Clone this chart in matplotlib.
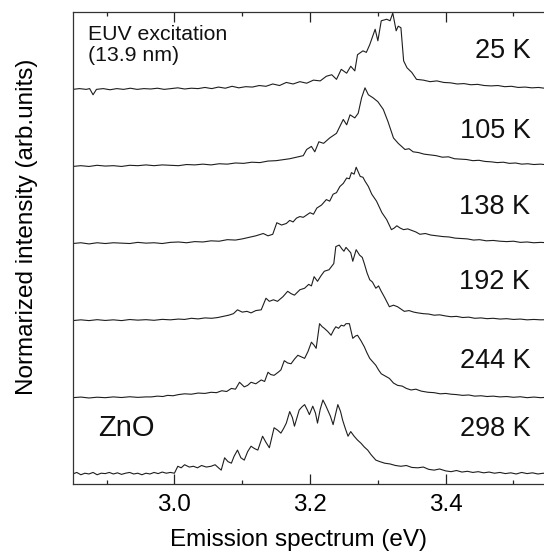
import matplotlib
matplotlib.use("Agg")
import matplotlib.pyplot as plt
from matplotlib.ticker import FixedLocator

plt.rcParams['font.family'] = ['Liberation Sans', 'DejaVu Sans']

# ---------------- data, (energy eV, normalized intensity) ----------------
temps = ["25 K", "105 K", "138 K", "192 K", "244 K", "298 K"]
offsets = [5, 4, 3, 2, 1, 0]

spec_25K = [(2.85, 0.0), (2.86, 0.01), (2.87, 0.0), (2.875, 0.01), (2.88, -0.07), (2.885, 0.0),
            (2.895, 0.01), (2.905, -0.005), (2.915, 0.01), (2.925, 0.0), (2.935, 0.015), (2.945, 0.0),
            (2.955, 0.01), (2.965, 0.005), (2.975, 0.015), (2.985, 0.0), (2.995, 0.01), (3.005, 0.02),
            (3.015, 0.005), (3.025, 0.015), (3.035, 0.01), (3.045, 0.025), (3.055, 0.01), (3.065, 0.03),
            (3.075, 0.015), (3.085, 0.04), (3.095, 0.02), (3.105, 0.035), (3.115, 0.03), (3.125, 0.05),
            (3.135, 0.04), (3.145, 0.07), (3.155, 0.05), (3.165, 0.09), (3.175, 0.07), (3.185, 0.10),
            (3.195, 0.08), (3.205, 0.12), (3.215, 0.11), (3.224, 0.17), (3.232, 0.19), (3.239, 0.13),
            (3.246, 0.26), (3.254, 0.21), (3.26, 0.30), (3.266, 0.24), (3.27, 0.45), (3.278, 0.50),
            (3.283, 0.48), (3.288, 0.58), (3.296, 0.78), (3.30, 0.63), (3.305, 0.89), (3.313, 0.91),
            (3.318, 0.89), (3.322, 0.99), (3.327, 0.76), (3.33, 0.82), (3.334, 0.80), (3.338, 0.37),
            (3.343, 0.28), (3.35, 0.22), (3.357, 0.13), (3.367, 0.12), (3.377, 0.10), (3.387, 0.11),
            (3.397, 0.09), (3.407, 0.085), (3.417, 0.07), (3.427, 0.075), (3.437, 0.06), (3.447, 0.065),
            (3.457, 0.05), (3.467, 0.045), (3.477, 0.05), (3.487, 0.035), (3.497, 0.04), (3.507, 0.025),
            (3.517, 0.03), (3.527, 0.02), (3.537, 0.025), (3.55, 0.01)]

spec_105K = [(2.85, 0.0), (2.862, 0.01), (2.874, 0.0), (2.886, 0.015), (2.898, 0.005), (2.91, 0.01),
             (2.922, 0.0), (2.934, 0.015), (2.946, 0.01), (2.958, 0.02), (2.97, 0.01), (2.982, 0.02),
             (2.994, 0.015), (3.006, 0.01), (3.018, 0.025), (3.03, 0.02), (3.042, 0.03), (3.054, 0.02),
             (3.066, 0.035), (3.078, 0.03), (3.09, 0.045), (3.102, 0.04), (3.114, 0.055), (3.126, 0.05),
             (3.138, 0.07), (3.15, 0.075), (3.162, 0.09), (3.17, 0.10), (3.18, 0.12), (3.19, 0.14),
             (3.195, 0.22), (3.202, 0.26), (3.207, 0.19), (3.213, 0.32), (3.22, 0.30), (3.229, 0.37),
             (3.239, 0.43), (3.249, 0.61), (3.254, 0.54), (3.259, 0.67), (3.266, 0.63), (3.271, 0.69),
             (3.276, 0.89), (3.281, 1.02), (3.286, 0.93), (3.293, 0.89), (3.30, 0.84), (3.308, 0.74),
             (3.315, 0.58), (3.323, 0.37), (3.33, 0.30), (3.34, 0.22), (3.346, 0.23), (3.352, 0.19),
             (3.36, 0.18), (3.368, 0.16), (3.377, 0.15), (3.386, 0.14), (3.395, 0.12), (3.404, 0.125),
             (3.413, 0.10), (3.422, 0.095), (3.431, 0.09), (3.44, 0.075), (3.449, 0.08), (3.458, 0.065),
             (3.467, 0.06), (3.476, 0.05), (3.485, 0.055), (3.494, 0.04), (3.503, 0.045), (3.512, 0.03),
             (3.521, 0.035), (3.53, 0.025), (3.54, 0.03), (3.55, 0.02)]

spec_138K = [(2.85, 0.0), (2.862, 0.01), (2.874, -0.005), (2.886, 0.01), (2.898, 0.0), (2.91, 0.01),
             (2.922, 0.005), (2.934, 0.0), (2.946, 0.015), (2.958, 0.005), (2.97, 0.01), (2.982, 0.0),
             (2.994, 0.015), (3.006, 0.02), (3.018, 0.01), (3.03, 0.025), (3.042, 0.02), (3.054, 0.035),
             (3.066, 0.03), (3.078, 0.05), (3.09, 0.045), (3.10, 0.06), (3.11, 0.08), (3.12, 0.10),
             (3.131, 0.13), (3.138, 0.10), (3.145, 0.12), (3.151, 0.27), (3.158, 0.24), (3.165, 0.26),
             (3.17, 0.30), (3.175, 0.28), (3.18, 0.33), (3.185, 0.35), (3.19, 0.34), (3.20, 0.40),
             (3.205, 0.38), (3.21, 0.46), (3.217, 0.50), (3.224, 0.57), (3.229, 0.55), (3.234, 0.64),
             (3.239, 0.66), (3.244, 0.74), (3.249, 0.78), (3.254, 0.85), (3.258, 0.84), (3.261, 0.92),
             (3.265, 0.90), (3.268, 0.99), (3.271, 0.93), (3.274, 0.87), (3.278, 0.86), (3.281, 0.81),
             (3.286, 0.74), (3.291, 0.64), (3.298, 0.55), (3.306, 0.40), (3.313, 0.31), (3.32, 0.18),
             (3.324, 0.20), (3.328, 0.23), (3.333, 0.20), (3.338, 0.18), (3.344, 0.19), (3.35, 0.17),
             (3.356, 0.15), (3.362, 0.12), (3.37, 0.13), (3.378, 0.11), (3.387, 0.10), (3.396, 0.09),
             (3.405, 0.085), (3.414, 0.07), (3.423, 0.065), (3.432, 0.06), (3.441, 0.045), (3.45, 0.05),
             (3.46, 0.035), (3.47, 0.04), (3.48, 0.03), (3.49, 0.025), (3.50, 0.03), (3.51, 0.015),
             (3.52, 0.02), (3.53, 0.01), (3.54, 0.015), (3.55, 0.01)]

spec_192K = [(2.85, 0.0), (2.862, 0.01), (2.874, 0.0), (2.886, 0.012), (2.898, 0.002), (2.91, 0.01),
             (2.922, 0.0), (2.934, 0.014), (2.946, 0.006), (2.958, 0.012), (2.97, 0.004), (2.982, 0.016),
             (2.994, 0.01), (3.006, 0.02), (3.015, 0.015), (3.025, 0.03), (3.035, 0.022), (3.045, 0.035),
             (3.055, 0.03), (3.064, 0.04), (3.072, 0.055), (3.08, 0.07), (3.087, 0.09), (3.093, 0.14),
             (3.10, 0.11), (3.107, 0.12), (3.113, 0.10), (3.12, 0.13), (3.128, 0.14), (3.135, 0.29),
             (3.14, 0.25), (3.146, 0.27), (3.152, 0.25), (3.16, 0.31), (3.167, 0.38), (3.172, 0.35),
             (3.177, 0.33), (3.185, 0.40), (3.192, 0.42), (3.198, 0.47), (3.202, 0.45), (3.206, 0.57),
             (3.211, 0.51), (3.216, 0.58), (3.221, 0.64), (3.228, 0.66), (3.235, 0.74), (3.238, 0.96),
             (3.243, 0.98), (3.247, 0.93), (3.25, 0.90), (3.253, 0.95), (3.256, 0.92), (3.26, 0.88),
             (3.263, 0.77), (3.268, 0.92), (3.273, 0.85), (3.277, 0.82), (3.28, 0.74), (3.284, 0.62),
             (3.288, 0.53), (3.292, 0.50), (3.297, 0.42), (3.301, 0.45), (3.305, 0.38), (3.31, 0.30),
             (3.317, 0.18), (3.323, 0.20), (3.329, 0.18), (3.334, 0.15), (3.339, 0.12), (3.346, 0.13),
             (3.353, 0.11), (3.359, 0.10), (3.367, 0.09), (3.375, 0.085), (3.383, 0.07), (3.391, 0.075),
             (3.40, 0.06), (3.408, 0.05), (3.416, 0.055), (3.425, 0.04), (3.434, 0.045), (3.443, 0.03),
             (3.452, 0.035), (3.461, 0.025), (3.47, 0.03), (3.48, 0.02), (3.49, 0.025), (3.50, 0.015),
             (3.51, 0.02), (3.52, 0.01), (3.53, 0.015), (3.54, 0.01), (3.55, 0.012)]

spec_244K = [(2.85, 0.0), (2.862, 0.008), (2.874, -0.004), (2.886, 0.006), (2.898, 0.0), (2.91, 0.01),
             (2.922, 0.002), (2.934, 0.012), (2.946, 0.004), (2.958, 0.01), (2.966, 0.01), (2.975, 0.02),
             (2.983, 0.015), (2.99, 0.03), (2.998, 0.025), (3.006, 0.04), (3.015, 0.05), (3.025, 0.045),
             (3.035, 0.06), (3.045, 0.055), (3.054, 0.07), (3.062, 0.065), (3.07, 0.09), (3.077, 0.08),
             (3.084, 0.12), (3.09, 0.11), (3.096, 0.20), (3.103, 0.14), (3.108, 0.16), (3.113, 0.20),
             (3.12, 0.18), (3.128, 0.23), (3.133, 0.21), (3.138, 0.33), (3.142, 0.30), (3.147, 0.29),
             (3.153, 0.33), (3.157, 0.36), (3.162, 0.48), (3.167, 0.45), (3.172, 0.44), (3.177, 0.50),
             (3.182, 0.55), (3.187, 0.53), (3.192, 0.51), (3.197, 0.60), (3.202, 0.72), (3.206, 0.68),
             (3.209, 0.64), (3.214, 0.96), (3.218, 0.92), (3.221, 0.90), (3.226, 0.86), (3.231, 0.81),
             (3.235, 0.88), (3.238, 0.92), (3.242, 0.90), (3.246, 0.94), (3.25, 0.93), (3.253, 0.96),
             (3.258, 0.96), (3.263, 0.77), (3.267, 0.80), (3.27, 0.81), (3.275, 0.74), (3.28, 0.66),
             (3.284, 0.58), (3.288, 0.51), (3.292, 0.47), (3.297, 0.42), (3.301, 0.36), (3.305, 0.31),
             (3.311, 0.28), (3.317, 0.25), (3.323, 0.19), (3.329, 0.16), (3.336, 0.15), (3.342, 0.12),
             (3.349, 0.10), (3.356, 0.11), (3.364, 0.085), (3.374, 0.07), (3.383, 0.065), (3.392, 0.05),
             (3.40, 0.055), (3.408, 0.045), (3.416, 0.04), (3.425, 0.03), (3.434, 0.035), (3.443, 0.02),
             (3.452, 0.025), (3.461, 0.015), (3.47, 0.02), (3.48, 0.01), (3.49, 0.015), (3.50, 0.005),
             (3.51, 0.012), (3.52, 0.0), (3.53, 0.008), (3.54, 0.0), (3.55, 0.005)]

spec_298K = [(2.85, 0.01), (2.856, 0.03), (2.862, 0.0), (2.868, 0.02), (2.874, 0.01), (2.88, 0.03),
             (2.886, 0.0), (2.892, 0.02), (2.898, 0.015), (2.904, 0.03), (2.91, 0.01), (2.916, 0.025),
             (2.922, 0.005), (2.928, 0.02), (2.934, 0.03), (2.94, 0.01), (2.946, 0.02), (2.952, 0.0),
             (2.958, 0.02), (2.964, 0.01), (2.97, 0.03), (2.976, 0.015), (2.982, 0.035), (2.988, 0.02),
             (2.994, 0.03), (3.0, 0.02), (3.005, 0.11), (3.01, 0.09), (3.015, 0.13), (3.022, 0.10),
             (3.028, 0.11), (3.034, 0.09), (3.04, 0.12), (3.047, 0.10), (3.054, 0.11), (3.06, 0.13),
             (3.065, 0.09), (3.069, 0.06), (3.074, 0.22), (3.079, 0.17), (3.084, 0.15), (3.088, 0.24),
             (3.093, 0.32), (3.098, 0.22), (3.103, 0.19), (3.108, 0.30), (3.113, 0.37), (3.118, 0.34),
             (3.123, 0.32), (3.13, 0.50), (3.135, 0.42), (3.14, 0.35), (3.147, 0.61), (3.152, 0.58),
             (3.157, 0.54), (3.161, 0.60), (3.165, 0.67), (3.17, 0.82), (3.174, 0.74), (3.177, 0.63),
             (3.184, 0.84), (3.188, 0.88), (3.192, 0.91), (3.196, 0.84), (3.199, 0.78), (3.204, 0.89),
             (3.208, 0.80), (3.211, 0.67), (3.215, 0.85), (3.219, 0.97), (3.223, 0.90), (3.226, 0.84),
             (3.23, 0.76), (3.234, 0.65), (3.238, 0.80), (3.241, 0.91), (3.245, 0.82), (3.248, 0.71),
             (3.252, 0.60), (3.256, 0.50), (3.26, 0.56), (3.265, 0.50), (3.27, 0.45), (3.275, 0.41),
             (3.28, 0.36), (3.285, 0.32), (3.29, 0.26), (3.297, 0.19), (3.303, 0.17), (3.31, 0.15),
             (3.318, 0.14), (3.326, 0.12), (3.334, 0.11), (3.342, 0.12), (3.35, 0.095), (3.359, 0.09),
             (3.367, 0.10), (3.375, 0.07), (3.383, 0.06), (3.391, 0.075), (3.40, 0.05), (3.408, 0.04),
             (3.416, 0.055), (3.424, 0.035), (3.432, 0.045), (3.44, 0.03), (3.448, 0.04), (3.456, 0.025),
             (3.464, 0.035), (3.472, 0.02), (3.48, 0.03), (3.488, 0.015), (3.496, 0.025), (3.504, 0.01),
             (3.512, 0.03), (3.52, 0.015), (3.528, 0.025), (3.536, 0.01), (3.544, 0.02), (3.55, 0.01)]

spectra = [spec_25K, spec_105K, spec_138K, spec_192K, spec_244K, spec_298K]

label_y = [5.50, 4.46, 3.48, 2.50, 1.47, 0.60]

major_ticks = [3.0, 3.2, 3.4]
minor_ticks = [2.9, 3.1, 3.3, 3.5]
tick_labels = ["3.0", "3.2", "3.4"]

# ---------------- figure ----------------
W, H = 544, 552
fig = plt.figure(figsize=(W / 100, H / 100), dpi=100)
ax = fig.add_axes([72.7 / W, 1 - 484 / H, (547.4 - 72.7) / W, (484 - 12.3) / H])

for spec, off in zip(spectra, offsets):
    ex = [p[0] for p in spec]
    iy = [p[1] + off for p in spec]
    ax.plot(ex, iy, color='#1e1e1e', lw=0.8)

ax.set_xlim(2.85, 3.55)
ax.set_ylim(-0.12, 6.0)

ax.xaxis.set_major_locator(FixedLocator(major_ticks))
ax.xaxis.set_minor_locator(FixedLocator(minor_ticks))
ax.set_xticklabels(tick_labels)
ax.set_yticks([])
ax.tick_params(axis='x', which='both', direction='in', top=True, bottom=True,
               labelsize=17.5, pad=7, color='#222222')
ax.tick_params(axis='x', which='major', length=7, width=0.9)
ax.tick_params(axis='x', which='minor', length=3.2, width=0.9)
for s in ax.spines.values():
    s.set_linewidth(0.9)
    s.set_color('#333333')

for t, yy in zip(temps, label_y):
    ax.text(3.525, yy, t, ha='right', va='center', fontsize=19.5, color='#111111')

ax.text(2.873, 5.84, "EUV excitation\n(13.9 nm)", ha='left', va='top',
        fontsize=15.3, color='#111111', linespacing=1.15)
ax.text(2.888, 0.61, "ZnO", ha='left', va='center', fontsize=21, color='#111111')

ax.set_xlabel("Emission spectrum (eV)", fontsize=17.5, va='center')
ax.xaxis.set_label_coords(0.476, -0.118)
ax.set_ylabel("Normarized intensity (arb.units)", fontsize=17.5, va='center')
ax.yaxis.set_label_coords(-0.096, 0.545)

fig.savefig("out.png", dpi=100)
